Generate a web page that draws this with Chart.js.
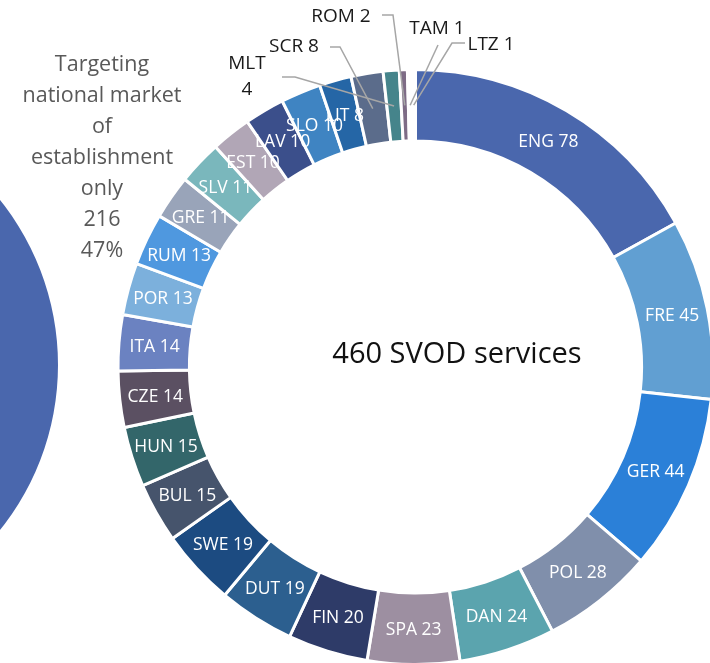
<!DOCTYPE html>
<html>
<head>
<meta charset="utf-8">
<script src="https://cdn.jsdelivr.net/npm/chart.js@4/dist/chart.umd.min.js"></script>
<style>
    html, body { margin: 0; padding: 0; background: #fff; overflow: hidden; width: 710px; height: 663px; }
    #wrap { position: relative; width: 710px; height: 663px; overflow: hidden; }
    canvas { position: absolute; }
    #leftChart { left: -470px; top: 101px; }
    #mainChart { left: 0; top: 0; }
    .txt { position: absolute; font-family: "Open Sans", "Noto Sans", sans-serif; text-align: center; white-space: nowrap; }
    #sideLabel { left: 2px; top: 47px; width: 200px; font-size: 21.5px; line-height: 31px; color: #595959; }
    #centerLabel { left: 300px; top: 332px; width: 314px; font-size: 29px; color: #111; }
</style>
</head>
<body>
<div id="wrap">
    <canvas id="leftChart" width="528" height="528"></canvas>
    <canvas id="mainChart" width="715" height="666"></canvas>
    <div id="sideLabel" class="txt">Targeting<br>national market<br>of<br>establishment<br>only<br>216<br>47%</div>
    <div id="centerLabel" class="txt">460 SVOD services</div>
</div>
<script>
// Data
const languages = ['ENG', 'FRE', 'GER', 'POL', 'DAN', 'SPA', 'FIN', 'DUT', 'SWE', 'BUL', 'HUN', 'CZE', 'ITA',
    'POR', 'RUM', 'GRE', 'SLV', 'EST', 'LAV', 'SLO', 'LIT', 'SCR', 'MLT', 'ROM', 'TAM', 'LTZ'];
const services = [78, 45, 44, 28, 24, 23, 20, 19, 19, 15, 15, 14, 14, 13, 13, 11, 11, 10, 10, 10, 8, 8, 4, 2, 1, 1];
const targetLabels = ['Targeting national market of establishment only', 'Other'];
const targetValues = [216, 244];

const colors = ['#4a67ad', '#619fd2', '#2b80d8', '#808fab', '#5ba4ae', '#9d8fa1', '#2e3b68', '#2c5f8f',
    '#1c4b81', '#46546c', '#33666a', '#5b5062', '#6b82c1', '#7cb0dc', '#4f98df', '#99a4b9', '#7ab7bc',
    '#b1a6b6', '#3b4f8b', '#3f84c2', '#2566a6', '#5b6c8b', '#45848b', '#7e6c86', '#ffffff', '#ffffff'];

// labels that sit outside the ring, with a leader line
const callouts = {
    SCR: { lines: ['SCR 8'], x: 294, y: 47, path: [[330, 47], [340, 47]] },
    MLT: { lines: ['MLT', '4'], x: 247, y: 64, path: [[282, 77], [295, 77]] },
    ROM: { lines: ['ROM 2'], x: 341, y: 17, path: [[382, 15], [393, 15]] },
    TAM: { lines: ['TAM 1'], x: 437, y: 29, path: [[438, 45]] },
    LTZ: { lines: ['LTZ 1'], x: 491, y: 45, path: [[465, 43], [452, 43]] }
};

const sliceLabels = {
    id: 'sliceLabels',
    afterDatasetsDraw(chart) {
        const c = chart.ctx;
        const arcs = chart.getDatasetMeta(0).data;
        const inFont = '17.5px "Open Sans", "Noto Sans", sans-serif';
        const outFont = '19px "Open Sans", "Noto Sans", sans-serif';
        c.save();
        c.textAlign = 'center';
        c.textBaseline = 'middle';
        arcs.forEach((arc, i) => {
            const name = languages[i];
            const p = arc.tooltipPosition();
            const co = callouts[name];
            if (co) {
                c.strokeStyle = '#a6a6a6';
                c.lineWidth = 1.5;
                c.beginPath();
                c.moveTo(co.path[0][0], co.path[0][1]);
                co.path.slice(1).forEach(pt => c.lineTo(pt[0], pt[1]));
                c.lineTo(p.x, p.y);
                c.stroke();
                c.fillStyle = '#1a1a1a';
                c.font = outFont;
                co.lines.forEach((t, k) => c.fillText(t, co.x, co.y + k * 26));
            } else {
                c.fillStyle = '#ffffff';
                c.font = inFont;
                c.fillText(name + ' ' + services[i], p.x, p.y + 1);
            }
        });
        c.restore();
    }
};

new Chart(document.getElementById('mainChart'), {
    type: 'doughnut',
    data: {
        labels: languages,
        datasets: [{
            data: services,
            backgroundColor: colors,
            borderColor: '#ffffff',
            borderWidth: 3
        }]
    },
    options: {
        responsive: false,
        animation: false,
        cutout: '76%',
        layout: { padding: { left: 116, top: 68, right: 0, bottom: 0 } },
        plugins: {
            legend: { display: false },
            tooltip: { enabled: false }
        }
    },
    plugins: [sliceLabels]
});

// Part of the neighbouring pie, cut off at the left edge
new Chart(document.getElementById('leftChart'), {
    type: 'pie',
    data: {
        labels: targetLabels,
        datasets: [{
            data: targetValues,
            backgroundColor: ['#4a67ad', '#9db3d9'],
            borderWidth: 0
        }]
    },
    options: {
        responsive: false,
        animation: false,
        rotation: 5.5,
        plugins: {
            legend: { display: false },
            tooltip: { enabled: false }
        }
    }
});
</script>
</body>
</html>
